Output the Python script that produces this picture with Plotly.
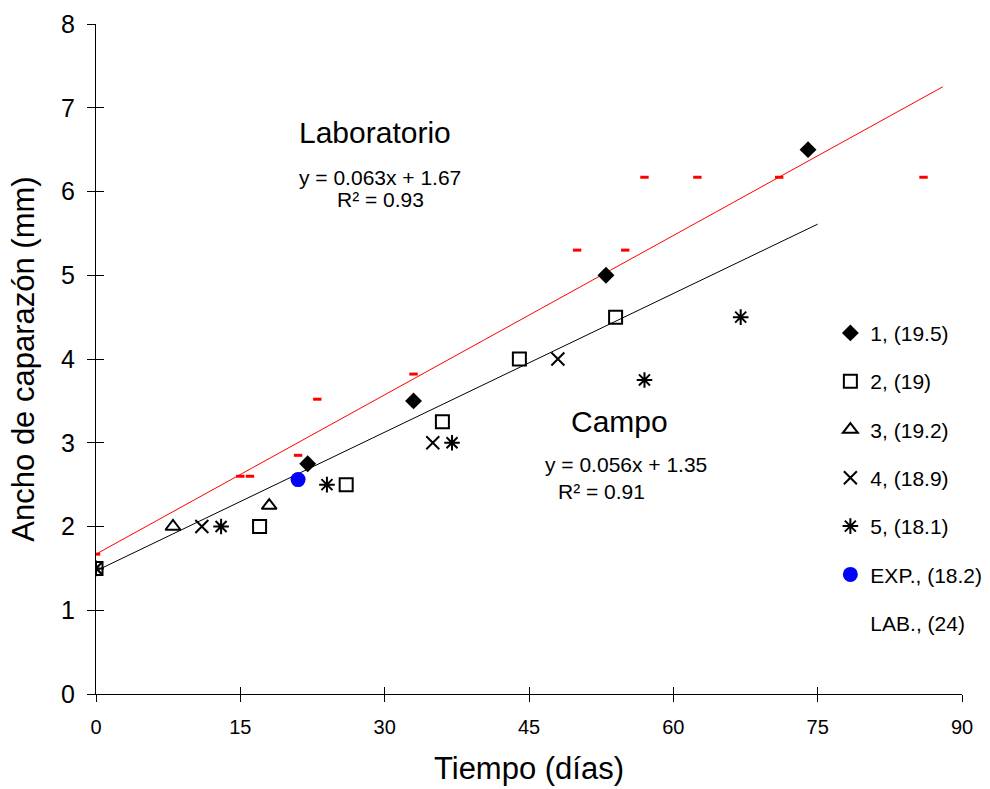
import plotly.graph_objects as go

# ---------------- data ----------------
s1_x = [22, 33, 53, 74]
s1_y = [2.75, 3.5, 5.0, 6.5]

s2_x = [0, 17, 26, 36, 44, 54]
s2_y = [1.5, 2.0, 2.5, 3.25, 4.0, 4.5]

s3_x = [8, 18]
s3_y = [2.0, 2.25]

s4_x = [0, 11, 35, 48]
s4_y = [1.5, 2.0, 3.0, 4.0]

s5_x = [0, 13, 24, 37, 57, 67]
s5_y = [1.5, 2.0, 2.5, 3.0, 3.75, 4.5]

exp_x = [21]
exp_y = [2.56]

lab_x = [0, 15, 16, 21, 23, 33, 50, 55, 57, 62.5, 71, 86]
lab_y = [1.67, 2.6, 2.6, 2.85, 3.52, 3.82, 5.3, 5.3, 6.17, 6.17, 6.17, 6.17]

lab_fit_x = [0, 88]
lab_fit_y = [1.67, 7.25]
campo_fit_x = [0, 75]
campo_fit_y = [1.47, 5.61]

names = ["1, (19.5)", "2, (19)", "3, (19.2)", "4, (18.9)", "5, (18.1)",
         "EXP., (18.2)", "LAB., (24)"]

x_ticks = [0, 15, 30, 45, 60, 75, 90]
y_ticks = [0, 1, 2, 3, 4, 5, 6, 7, 8]

FONT = "Liberation Sans, Arial, sans-serif"

fig = go.Figure()

# regression lines
fig.add_trace(go.Scatter(x=lab_fit_x, y=lab_fit_y, mode="lines",
                         line=dict(color="#ff0000", width=1), showlegend=False,
                         hoverinfo="skip"))
fig.add_trace(go.Scatter(x=campo_fit_x, y=campo_fit_y, mode="lines",
                         line=dict(color="#000000", width=1), showlegend=False,
                         hoverinfo="skip"))

# LAB data (red dashes)
fig.add_trace(go.Scatter(x=lab_x, y=lab_y, mode="markers", showlegend=False,
                         marker=dict(symbol="line-ew-open", size=6,
                                     color="#ff0000",
                                     line=dict(color="#ff0000", width=3))))

blk = "#000000"
fig.add_trace(go.Scatter(x=s1_x, y=s1_y, mode="markers", name=names[0],
                         legendgroup="g1",
                         marker=dict(symbol="diamond", size=13, color=blk)))
fig.add_trace(go.Scatter(x=s2_x, y=s2_y, mode="markers", name=names[1],
                         legendgroup="g2",
                         marker=dict(symbol="square-open", size=13, color=blk,
                                     line=dict(color=blk, width=2))))
fig.add_trace(go.Scatter(x=s3_x, y=s3_y, mode="markers", name=names[2],
                         legendgroup="g3",
                         marker=dict(symbol="triangle-up-open", size=13,
                                     color=blk, line=dict(color=blk, width=2))))
fig.add_trace(go.Scatter(x=s4_x, y=s4_y, mode="markers", name=names[3],
                         legendgroup="g4",
                         marker=dict(symbol="x-thin-open", size=13, color=blk,
                                     line=dict(color=blk, width=2))))
fig.add_trace(go.Scatter(x=s5_x, y=s5_y, mode="markers", name=names[4],
                         legendgroup="g5",
                         marker=dict(symbol="asterisk-open", size=13, color=blk,
                                     line=dict(color=blk, width=2))))
fig.add_trace(go.Scatter(x=exp_x, y=exp_y, mode="markers", name=names[5],
                         legendgroup="g6",
                         marker=dict(symbol="circle", size=15, color="#0000ff")))
# legend entry for LAB (no visible symbol)
fig.add_trace(go.Scatter(x=[None], y=[None], mode="markers", name=names[6],
                         legendgroup="g7",
                         marker=dict(symbol="circle", size=10,
                                     color="rgba(0,0,0,0)")))
# carrier for the inner tick axes
fig.add_trace(go.Scatter(x=[None], y=[None], xaxis="x2", yaxis="y2",
                         mode="markers", showlegend=False, hoverinfo="skip"))

annots = [
    dict(x=29.0, y=6.70, text="Laboratorio", size=30),
    dict(x=29.5, y=6.17, text="y = 0.063x + 1.67", size=21),
    dict(x=29.6, y=5.91, text="R² = 0.93", size=21),
    dict(x=54.4, y=3.25, text="Campo", size=30),
    dict(x=55.1, y=2.74, text="y = 0.056x + 1.35", size=21),
    dict(x=52.5, y=2.42, text="R² = 0.91", size=21),
]
for a in annots:
    fig.add_annotation(x=a["x"], y=a["y"], xref="x", yref="y", text=a["text"],
                       showarrow=False, xanchor="center", yanchor="middle",
                       font=dict(family=FONT, size=a["size"], color="#000000"))

fig.update_layout(
    width=990, height=789,
    margin=dict(l=96, r=28, t=24, b=95, autoexpand=False),
    paper_bgcolor="white", plot_bgcolor="white",
    font=dict(family=FONT, color="#000000"),
    showlegend=True,
    legend=dict(x=0.848, y=0.569, xanchor="left", yanchor="top",
                font=dict(family=FONT, size=21, color="#000000"),
                bgcolor="rgba(0,0,0,0)", tracegroupgap=18,
                itemwidth=30),
    xaxis=dict(range=[0, 90], tickvals=x_ticks, ticks="outside", ticklen=7,
               tickcolor="#000", showline=True, linecolor="#000", linewidth=1,
               showgrid=False, zeroline=False,
               tickfont=dict(family=FONT, size=20), ticklabelstandoff=8,
               title=dict(text="Tiempo (días)", font=dict(family=FONT, size=31),
                          standoff=20)),
    yaxis=dict(range=[0, 8], tickvals=y_ticks, ticks="outside", ticklen=8,
               tickcolor="#000", showline=True, linecolor="#000", linewidth=1,
               showgrid=False, zeroline=False,
               tickfont=dict(family=FONT, size=25), ticklabelstandoff=7,
               title=dict(text="Ancho de caparazón (mm)",
                          font=dict(family=FONT, size=31), standoff=17)),
    xaxis2=dict(overlaying="x", anchor="y2", range=[0, 90], tickvals=x_ticks,
                ticks="inside", ticklen=7, tickcolor="#000",
                showticklabels=False, showgrid=False, zeroline=False,
                showline=False),
    yaxis2=dict(overlaying="y", anchor="x2", range=[0, 8], tickvals=y_ticks,
                ticks="inside", ticklen=8, tickcolor="#000",
                showticklabels=False, showgrid=False, zeroline=False,
                showline=False, side="left"),
)

fig.write_html("out.html")
